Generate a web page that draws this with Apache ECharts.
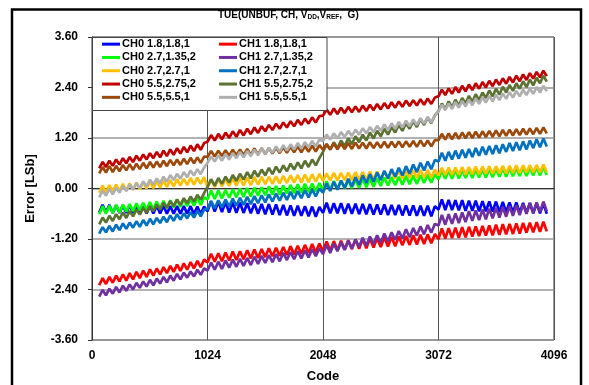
<!DOCTYPE html>
<html>
<head>
<meta charset="utf-8">
<script src="https://cdn.jsdelivr.net/npm/echarts@6/dist/echarts.min.js"></script>
<style>
html,body{margin:0;padding:0;background:#fff;}
#chart{width:589px;height:385px;}
</style>
</head>
<body>
<div id="chart"></div>
<script>
// ---- Data ----
var codes = [
 64,94,124,154,184,214,244,274,304,334,364,394,424,454,484,514,544,574,604,634,664,694,724,754,784,814,844,874,904,934,964,994,
 1024,1056,1088,1120,1152,1184,1216,1248,1280,1312,1344,1376,1408,1440,1472,1504,1536,1568,1600,1632,1664,1696,1728,1760,1792,1824,1856,1888,1920,1952,1984,2016,
 2048,2080,2112,2144,2176,2208,2240,2272,2304,2336,2368,2400,2432,2464,2496,2528,2560,2592,2624,2656,2688,2720,2752,2784,2816,2848,2880,2912,2944,2976,3008,3040,
 3072,3102,3132,3162,3192,3222,3252,3282,3312,3342,3372,3402,3432,3462,3492,3522,3552,3582,3612,3642,3672,3702,3732,3762,3792,3822,3852,3882,3912,3942,3972,4002,
 4032];

var seriesNames = ['CH0 1.8,1.8,1','CH1 1.8,1.8,1','CH0 2.7,1.35,2','CH1 2.7,1.35,2','CH0 2.7,2.7,1','CH1 2.7,2.7,1','CH0 5.5,2.75,2','CH1 5.5,2.75,2','CH0 5.5,5.5,1','CH1 5.5,5.5,1'];
var seriesColors = ['#0000FF','#FF0000','#00FF00','#7030A0','#FFC000','#0070C0','#C00000','#5B7232','#9C4A0C','#AFAFAF'];

var ch0_18 = [
 -0.57,-0.39,-0.57,-0.39,-0.58,-0.40,-0.58,-0.40,-0.58,-0.40,-0.58,-0.40,-0.59,-0.41,-0.59,-0.41,-0.59,-0.41,-0.59,-0.41,-0.60,-0.42,-0.60,-0.42,-0.60,-0.42,-0.60,-0.42,-0.61,-0.43,-0.61,-0.43,
 -0.54,-0.30,-0.55,-0.31,-0.56,-0.32,-0.57,-0.33,-0.58,-0.34,-0.58,-0.35,-0.59,-0.36,-0.60,-0.37,-0.61,-0.37,-0.62,-0.38,-0.63,-0.39,-0.64,-0.40,-0.65,-0.41,-0.65,-0.42,-0.66,-0.43,-0.67,-0.44,
 -0.58,-0.34,-0.59,-0.35,-0.59,-0.35,-0.60,-0.36,-0.60,-0.36,-0.61,-0.37,-0.61,-0.37,-0.62,-0.38,-0.62,-0.38,-0.63,-0.39,-0.63,-0.39,-0.64,-0.40,-0.64,-0.40,-0.65,-0.41,-0.65,-0.41,-0.66,-0.42,
 -0.50,-0.26,-0.51,-0.27,-0.51,-0.28,-0.52,-0.28,-0.53,-0.29,-0.53,-0.29,-0.54,-0.30,-0.54,-0.31,-0.55,-0.31,-0.56,-0.32,-0.56,-0.33,-0.57,-0.33,-0.58,-0.34,-0.58,-0.34,-0.59,-0.35,-0.59,-0.36,
 -0.60];
var ch1_18 = [
 -2.30,-2.13,-2.27,-2.10,-2.24,-2.07,-2.21,-2.04,-2.19,-2.01,-2.16,-1.98,-2.13,-1.95,-2.10,-1.92,-2.07,-1.90,-2.04,-1.87,-2.01,-1.84,-1.98,-1.81,-1.96,-1.78,-1.93,-1.75,-1.90,-1.72,-1.87,-1.69,
 -1.76,-1.55,-1.74,-1.54,-1.73,-1.52,-1.71,-1.50,-1.70,-1.49,-1.68,-1.47,-1.66,-1.45,-1.65,-1.44,-1.63,-1.42,-1.61,-1.41,-1.60,-1.39,-1.58,-1.37,-1.57,-1.36,-1.55,-1.34,-1.53,-1.32,-1.52,-1.31,
 -1.49,-1.26,-1.48,-1.25,-1.47,-1.24,-1.45,-1.23,-1.44,-1.21,-1.43,-1.20,-1.42,-1.19,-1.40,-1.18,-1.39,-1.16,-1.38,-1.15,-1.37,-1.14,-1.35,-1.13,-1.34,-1.11,-1.33,-1.10,-1.32,-1.09,-1.30,-1.08,
 -1.20,-0.95,-1.19,-0.94,-1.18,-0.93,-1.17,-0.92,-1.16,-0.91,-1.14,-0.90,-1.13,-0.89,-1.12,-0.88,-1.11,-0.86,-1.10,-0.85,-1.09,-0.84,-1.08,-0.83,-1.07,-0.82,-1.05,-0.81,-1.04,-0.80,-1.03,-0.79,
 -1.02];
var ch0_27_135 = [
 -0.61,-0.42,-0.60,-0.41,-0.58,-0.39,-0.57,-0.38,-0.55,-0.37,-0.54,-0.35,-0.52,-0.34,-0.51,-0.32,-0.50,-0.31,-0.48,-0.29,-0.47,-0.28,-0.45,-0.26,-0.44,-0.25,-0.42,-0.24,-0.41,-0.22,-0.39,-0.21,
 -0.26,-0.05,-0.25,-0.04,-0.24,-0.03,-0.22,-0.02,-0.21,0.00,-0.20,0.01,-0.19,0.02,-0.17,0.03,-0.16,0.05,-0.15,0.06,-0.14,0.07,-0.12,0.08,-0.11,0.10,-0.10,0.11,-0.09,0.12,-0.07,0.13,
 -0.04,0.17,-0.03,0.18,-0.02,0.19,0.00,0.20,0.01,0.21,0.02,0.23,0.03,0.24,0.04,0.25,0.06,0.26,0.07,0.27,0.08,0.28,0.09,0.30,0.10,0.31,0.11,0.32,0.13,0.33,0.14,0.34,
 0.22,0.42,0.23,0.43,0.23,0.44,0.24,0.44,0.25,0.45,0.25,0.45,0.26,0.46,0.26,0.47,0.27,0.47,0.28,0.48,0.28,0.49,0.29,0.49,0.30,0.50,0.30,0.50,0.31,0.51,0.31,0.52,
 0.32];
var ch1_27_135 = [
 -2.57,-2.41,-2.54,-2.38,-2.50,-2.34,-2.47,-2.31,-2.43,-2.28,-2.40,-2.24,-2.36,-2.21,-2.33,-2.17,-2.30,-2.14,-2.26,-2.10,-2.23,-2.07,-2.19,-2.03,-2.16,-2.00,-2.12,-1.97,-2.09,-1.93,-2.05,-1.90,
 -1.95,-1.76,-1.93,-1.74,-1.91,-1.71,-1.88,-1.69,-1.86,-1.67,-1.84,-1.65,-1.82,-1.62,-1.79,-1.60,-1.77,-1.58,-1.75,-1.56,-1.73,-1.53,-1.70,-1.51,-1.68,-1.49,-1.66,-1.47,-1.64,-1.44,-1.61,-1.42,
 -1.56,-1.34,-1.53,-1.31,-1.49,-1.28,-1.46,-1.24,-1.43,-1.21,-1.39,-1.17,-1.36,-1.14,-1.32,-1.11,-1.29,-1.07,-1.26,-1.04,-1.22,-1.01,-1.19,-0.97,-1.16,-0.94,-1.12,-0.90,-1.09,-0.87,-1.05,-0.84,
 -0.88,-0.63,-0.86,-0.61,-0.84,-0.59,-0.82,-0.57,-0.80,-0.54,-0.77,-0.52,-0.75,-0.50,-0.73,-0.48,-0.71,-0.46,-0.69,-0.44,-0.67,-0.42,-0.65,-0.40,-0.63,-0.37,-0.60,-0.35,-0.58,-0.33,-0.56,-0.31,
 -0.54];
var ch0_27_27 = [
 -0.10,0.07,-0.09,0.08,-0.07,0.09,-0.06,0.11,-0.05,0.12,-0.03,0.14,-0.02,0.15,0.00,0.16,0.01,0.18,0.02,0.19,0.04,0.20,0.05,0.22,0.07,0.23,0.08,0.25,0.09,0.26,0.11,0.27,
 0.03,0.21,0.04,0.22,0.05,0.23,0.06,0.24,0.07,0.25,0.07,0.26,0.08,0.27,0.09,0.28,0.10,0.28,0.11,0.29,0.12,0.30,0.13,0.31,0.14,0.32,0.14,0.33,0.15,0.34,0.16,0.35,
 0.18,0.36,0.19,0.37,0.19,0.37,0.20,0.38,0.20,0.39,0.21,0.39,0.21,0.40,0.22,0.40,0.23,0.41,0.23,0.41,0.24,0.42,0.24,0.42,0.25,0.43,0.25,0.44,0.26,0.44,0.26,0.45,
 0.31,0.49,0.32,0.50,0.32,0.50,0.33,0.51,0.33,0.51,0.34,0.52,0.34,0.52,0.35,0.53,0.35,0.53,0.36,0.54,0.36,0.54,0.37,0.55,0.37,0.55,0.38,0.56,0.38,0.56,0.39,0.57,
 0.39];
var ch1_27_27 = [
 -1.07,-0.92,-1.04,-0.89,-1.02,-0.86,-0.99,-0.83,-0.96,-0.81,-0.93,-0.78,-0.91,-0.75,-0.88,-0.72,-0.85,-0.70,-0.82,-0.67,-0.80,-0.64,-0.77,-0.61,-0.74,-0.59,-0.71,-0.56,-0.69,-0.53,-0.66,-0.50,
 -0.49,-0.30,-0.47,-0.28,-0.45,-0.26,-0.43,-0.24,-0.41,-0.22,-0.39,-0.20,-0.37,-0.18,-0.35,-0.16,-0.33,-0.14,-0.31,-0.12,-0.29,-0.10,-0.27,-0.08,-0.25,-0.06,-0.23,-0.04,-0.21,-0.02,-0.19,0.00,
 -0.10,0.12,-0.06,0.16,-0.03,0.19,0.01,0.23,0.05,0.27,0.09,0.31,0.13,0.34,0.16,0.38,0.20,0.42,0.24,0.46,0.28,0.49,0.31,0.53,0.35,0.57,0.39,0.61,0.43,0.64,0.46,0.68,
 0.64,0.85,0.66,0.87,0.69,0.90,0.71,0.92,0.73,0.94,0.75,0.96,0.78,0.99,0.80,1.01,0.82,1.03,0.84,1.05,0.87,1.08,0.89,1.10,0.91,1.12,0.93,1.14,0.96,1.17,0.98,1.19,
 1.00];
var ch0_55_275 = [
 0.48,0.63,0.51,0.66,0.54,0.69,0.57,0.72,0.60,0.75,0.63,0.78,0.66,0.81,0.69,0.84,0.72,0.87,0.74,0.90,0.77,0.93,0.80,0.96,0.83,0.99,0.86,1.02,0.89,1.05,0.92,1.08,
 1.11,1.27,1.14,1.30,1.17,1.33,1.20,1.36,1.23,1.39,1.26,1.42,1.29,1.45,1.32,1.48,1.36,1.51,1.39,1.54,1.42,1.57,1.45,1.60,1.48,1.63,1.51,1.66,1.54,1.69,1.57,1.72,
 1.73,1.88,1.75,1.90,1.77,1.92,1.79,1.94,1.81,1.95,1.82,1.97,1.84,1.99,1.86,2.01,1.88,2.03,1.90,2.05,1.92,2.07,1.94,2.09,1.96,2.10,1.97,2.12,1.99,2.14,2.01,2.16,
 2.19,2.35,2.22,2.38,2.25,2.41,2.28,2.44,2.31,2.47,2.34,2.50,2.37,2.53,2.40,2.56,2.43,2.59,2.46,2.62,2.49,2.65,2.52,2.68,2.55,2.71,2.58,2.74,2.61,2.77,2.64,2.80,
 2.67];
var ch1_55_275 = [
 -0.85,-0.69,-0.81,-0.65,-0.77,-0.61,-0.73,-0.57,-0.70,-0.54,-0.66,-0.50,-0.62,-0.46,-0.58,-0.42,-0.54,-0.38,-0.50,-0.34,-0.46,-0.30,-0.42,-0.26,-0.39,-0.23,-0.35,-0.19,-0.31,-0.15,-0.27,-0.11,
 0.04,0.22,0.07,0.25,0.11,0.28,0.14,0.32,0.18,0.35,0.21,0.39,0.24,0.42,0.28,0.45,0.31,0.49,0.34,0.52,0.38,0.55,0.41,0.59,0.45,0.62,0.48,0.66,0.51,0.69,0.55,0.72,
 0.87,1.05,0.92,1.10,0.96,1.14,1.01,1.19,1.05,1.24,1.10,1.28,1.14,1.33,1.19,1.37,1.24,1.42,1.28,1.46,1.33,1.51,1.37,1.55,1.42,1.60,1.46,1.65,1.51,1.69,1.55,1.74,
 1.84,2.02,1.88,2.07,1.93,2.11,1.97,2.15,2.02,2.20,2.06,2.24,2.10,2.28,2.15,2.33,2.19,2.37,2.23,2.42,2.28,2.46,2.32,2.50,2.37,2.55,2.41,2.59,2.45,2.63,2.50,2.68,
 2.54];
var ch0_55_55 = [
 0.36,0.51,0.38,0.53,0.39,0.54,0.41,0.56,0.43,0.58,0.44,0.59,0.46,0.61,0.48,0.63,0.50,0.64,0.51,0.66,0.53,0.68,0.55,0.69,0.56,0.71,0.58,0.73,0.60,0.74,0.61,0.76,
 0.75,0.89,0.76,0.90,0.77,0.91,0.78,0.92,0.79,0.93,0.79,0.94,0.80,0.95,0.81,0.96,0.82,0.96,0.83,0.97,0.84,0.98,0.85,0.99,0.86,1.00,0.86,1.01,0.87,1.02,0.88,1.03,
 0.92,1.06,0.93,1.07,0.93,1.07,0.94,1.08,0.94,1.09,0.95,1.09,0.95,1.10,0.96,1.10,0.97,1.11,0.97,1.11,0.98,1.12,0.98,1.12,0.99,1.13,0.99,1.14,1.00,1.14,1.00,1.15,
 1.15,1.30,1.16,1.31,1.17,1.32,1.18,1.33,1.19,1.34,1.20,1.35,1.21,1.36,1.22,1.37,1.23,1.38,1.24,1.39,1.25,1.40,1.26,1.41,1.27,1.42,1.28,1.43,1.29,1.44,1.30,1.45,
 1.31];
var ch1_55_55 = [
 -0.21,-0.05,-0.17,-0.01,-0.14,0.02,-0.10,0.06,-0.06,0.10,-0.03,0.13,0.01,0.17,0.05,0.21,0.09,0.24,0.12,0.28,0.16,0.32,0.20,0.35,0.23,0.39,0.27,0.43,0.31,0.46,0.34,0.50,
 0.61,0.76,0.64,0.79,0.66,0.82,0.69,0.84,0.72,0.87,0.74,0.89,0.77,0.92,0.79,0.95,0.82,0.97,0.85,1.00,0.87,1.03,0.90,1.05,0.93,1.08,0.95,1.10,0.98,1.13,1.00,1.16,
 1.13,1.28,1.16,1.31,1.19,1.34,1.22,1.37,1.25,1.40,1.28,1.43,1.31,1.46,1.34,1.49,1.37,1.52,1.39,1.55,1.42,1.58,1.45,1.61,1.48,1.64,1.51,1.67,1.54,1.70,1.57,1.73,
 1.83,1.99,1.86,2.02,1.89,2.05,1.92,2.08,1.95,2.11,1.98,2.14,2.01,2.17,2.04,2.20,2.07,2.23,2.10,2.26,2.13,2.29,2.16,2.32,2.19,2.35,2.22,2.38,2.25,2.41,2.28,2.44,
 2.31];

var seriesValues = [ch0_18, ch1_18, ch0_27_135, ch1_27_135, ch0_27_27, ch1_27_27, ch0_55_275, ch1_55_275, ch0_55_55, ch1_55_55];

var xTicks = [0, 1024, 2048, 3072, 4096];
var yTicks = [-3.6, -2.4, -1.2, 0, 1.2, 2.4, 3.6];

// ---- Chart ----
var FONT = 'Liberation Sans, Arial, sans-serif';
var chart = echarts.init(document.getElementById('chart'), null, {renderer: 'canvas'});

var series = seriesNames.map(function (name, i) {
  return {
    name: name,
    type: 'line',
    showSymbol: false,
    symbol: 'none',
    animation: false,
    z: 2,
    lineStyle: {width: 2.7, color: seriesColors[i]},
    itemStyle: {color: seriesColors[i]},
    data: codes.map(function (c, k) { return [c, seriesValues[i][k]]; })
  };
});

var legendCommon = {
  orient: 'vertical',
  top: 37.5,
  itemWidth: 18,
  itemHeight: 3,
  itemGap: 0,
  icon: 'rect',
  padding: 0,
  z: 6,
  textStyle: {fontFamily: FONT, fontWeight: 'bold', fontSize: 11, color: '#000', lineHeight: 13.3, padding: [0, 0, 0, -3]},
  selectedMode: false
};

var option = {
  animation: false,
  backgroundColor: '#fff',
  title: {
    text: '{a|TUE(UNBUF, CH, V}{s|DD}{a|,V}{s|REF}{a|,  G)}',
    left: 218,
    top: 9,
    padding: 0,
    textStyle: {
      rich: {
        a: {fontFamily: FONT, fontWeight: 'bold', fontSize: 10, color: '#000'},
        s: {fontFamily: FONT, fontWeight: 'bold', fontSize: 6.5, color: '#000', padding: [5, 0, 0, 0]}
      }
    }
  },
  legend: [
    Object.assign({}, legendCommon, {left: 102, data: seriesNames.filter(function (n, i) { return i % 2 === 0; })}),
    Object.assign({}, legendCommon, {left: 219, data: seriesNames.filter(function (n, i) { return i % 2 === 1; })})
  ],
  grid: {left: 92, right: 35, top: 37, bottom: 45, show: true, borderColor: '#333', borderWidth: 1, backgroundColor: 'transparent', outerBoundsMode: 'none', containLabel: false},
  xAxis: {
    type: 'value',
    min: xTicks[0],
    max: xTicks[xTicks.length - 1],
    interval: 1024,
    name: 'Code',
    nameLocation: 'middle',
    nameGap: 30,
    nameTextStyle: {fontFamily: FONT, fontWeight: 'bold', fontSize: 13, color: '#000'},
    axisLine: {show: true, lineStyle: {color: '#333', width: 1}},
    axisTick: {show: false},
    axisLabel: {fontFamily: FONT, fontWeight: 'bold', fontSize: 12, color: '#000', margin: 10,
      formatter: function (v) { return String(Math.round(v)); }},
    splitLine: {show: true, lineStyle: {color: '#555', width: 1}}
  },
  yAxis: {
    type: 'value',
    min: yTicks[0],
    max: yTicks[yTicks.length - 1],
    interval: 1.2,
    name: 'Error [LSb]',
    nameLocation: 'middle',
    nameGap: 55,
    nameRotate: 90,
    nameTextStyle: {fontFamily: FONT, fontWeight: 'bold', fontSize: 13, color: '#000'},
    axisLine: {show: true, lineStyle: {color: '#333', width: 1}},
    axisTick: {show: true, inside: false, length: 4, lineStyle: {color: '#333'}},
    axisLabel: {fontFamily: FONT, fontWeight: 'bold', fontSize: 12, color: '#000', margin: 14,
      formatter: function (v) { return (Math.abs(v) < 1e-9 ? 0 : v).toFixed(2); }},
    splitLine: {show: true, lineStyle: {color: '#999', width: 1.5}}
  },
  graphic: [
    {type: 'rect', z: 5, shape: {x: 92.5, y: 37.5, width: 234.5, height: 73}, style: {fill: '#fff', stroke: '#444', lineWidth: 1}},
    {type: 'rect', z: 10, shape: {x: 12, y: 9.5, width: 569, height: 400}, style: {fill: null, stroke: '#000', lineWidth: 2.5}}
  ],
  series: series
};

chart.setOption(option);
</script>
</body>
</html>
